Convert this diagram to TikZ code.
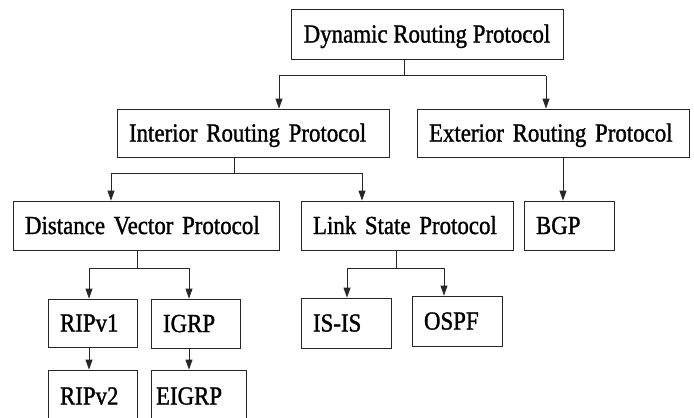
\documentclass[tikz,border=0pt]{standalone}
\usepackage{fontspec}
\setmainfont{Liberation Serif}[FakeStretch=0.88,FakeBold=1.2]
\usetikzlibrary{arrows.meta}
\begin{document}
\begin{tikzpicture}[x=1pt,y=-1pt,
  line width=0.8pt,
  box/.style={draw=black!85, inner xsep=12pt, inner ysep=0pt,
    text height=17pt, text depth=0pt, align=left,
    font=\fontsize{26}{30}\selectfont},
  arr/.style={-{Triangle[length=10pt,width=7pt]}},
  conn/.style={draw=black!85}]
\useasboundingbox (0,0) rectangle (694,418);
\clip (0,0) rectangle (694,418);
% level 1
\node[box, inner xsep=0pt, minimum width=272pt, align=center, minimum height=50pt] (dyn) at (427,34) {Dynamic Routing Protocol};
% level 2
\node[box, text width=248pt, minimum height=48pt] (intr) at (253,133) {Interior Routing Protocol};
\node[box, text width=248pt, minimum height=48pt] (ext) at (553,133) {Exterior Routing Protocol};
% level 3
\node[box, text width=242pt, minimum height=49pt] (dv) at (146,225.5) {Distance Vector Protocol};
\node[box, text width=188pt, minimum height=49pt] (ls) at (407,225.5) {Link State Protocol};
\node[box, text width=66pt, minimum height=49pt] (bgp) at (569,225.5) {BGP};
% level 4
\node[box, text width=65pt, minimum height=48pt] (rip1) at (92.5,323) {RIPv1};
\node[box, text width=65pt, minimum height=49pt] (igrp) at (195.5,323.5) {IGRP};
\node[box, text width=66pt, minimum height=50pt] (isis) at (346,323) {IS-IS};
\node[box, text width=66pt, minimum height=50pt] (ospf) at (457,321) {OSPF};
% level 5
\node[box, text width=65pt, minimum height=52pt] (rip2) at (92.5,396) {RIPv2};
\node[box, inner xsep=5pt, text width=85pt, minimum height=52pt] (eigrp) at (198.5,396) {EIGRP};
% junctions
\coordinate (j1) at (404,75.5);
\coordinate (b1) at (279,75.5);
\coordinate (b2) at (546,75.5);
\coordinate (j2) at (234,173);
\coordinate (b3) at (111,173);
\coordinate (b4) at (362,173);
\coordinate (b5) at (563,157);
\coordinate (j3) at (137,268);
\coordinate (b6) at (89,268);
\coordinate (b7) at (189,268);
\coordinate (j4) at (396,268);
\coordinate (b8) at (347,268);
\coordinate (b9) at (444,268);
% connectors
\draw[conn] (dyn.south -| j1) -- (j1);
\draw[conn] (b1) -- (b2);
\draw[conn,arr] (b1) -- (b1 |- intr.north);
\draw[conn,arr] (b2) -- (b2 |- ext.north);
\draw[conn] (intr.south -| j2) -- (j2);
\draw[conn] (b3) -- (b4);
\draw[conn,arr] (b3) -- (b3 |- dv.north);
\draw[conn,arr] (b4) -- (b4 |- ls.north);
\draw[conn,arr] (ext.south -| b5) -- (b5 |- bgp.north);
\draw[conn] (dv.south -| j3) -- (j3);
\draw[conn] (b6) -- (b7);
\draw[conn,arr] (b6) -- (b6 |- rip1.north);
\draw[conn,arr] (b7) -- (b7 |- igrp.north);
\draw[conn] (ls.south -| j4) -- (j4);
\draw[conn] (b8) -- (b9);
\draw[conn,arr] (b8) -- (b8 |- isis.north);
\draw[conn,arr] (b9) -- (b9 |- ospf.north);
\draw[conn,arr] (rip1.south -| b6) -- (b6 |- rip2.north);
\draw[conn,arr] (igrp.south -| b7) -- (b7 |- eigrp.north);
\end{tikzpicture}
\end{document}
